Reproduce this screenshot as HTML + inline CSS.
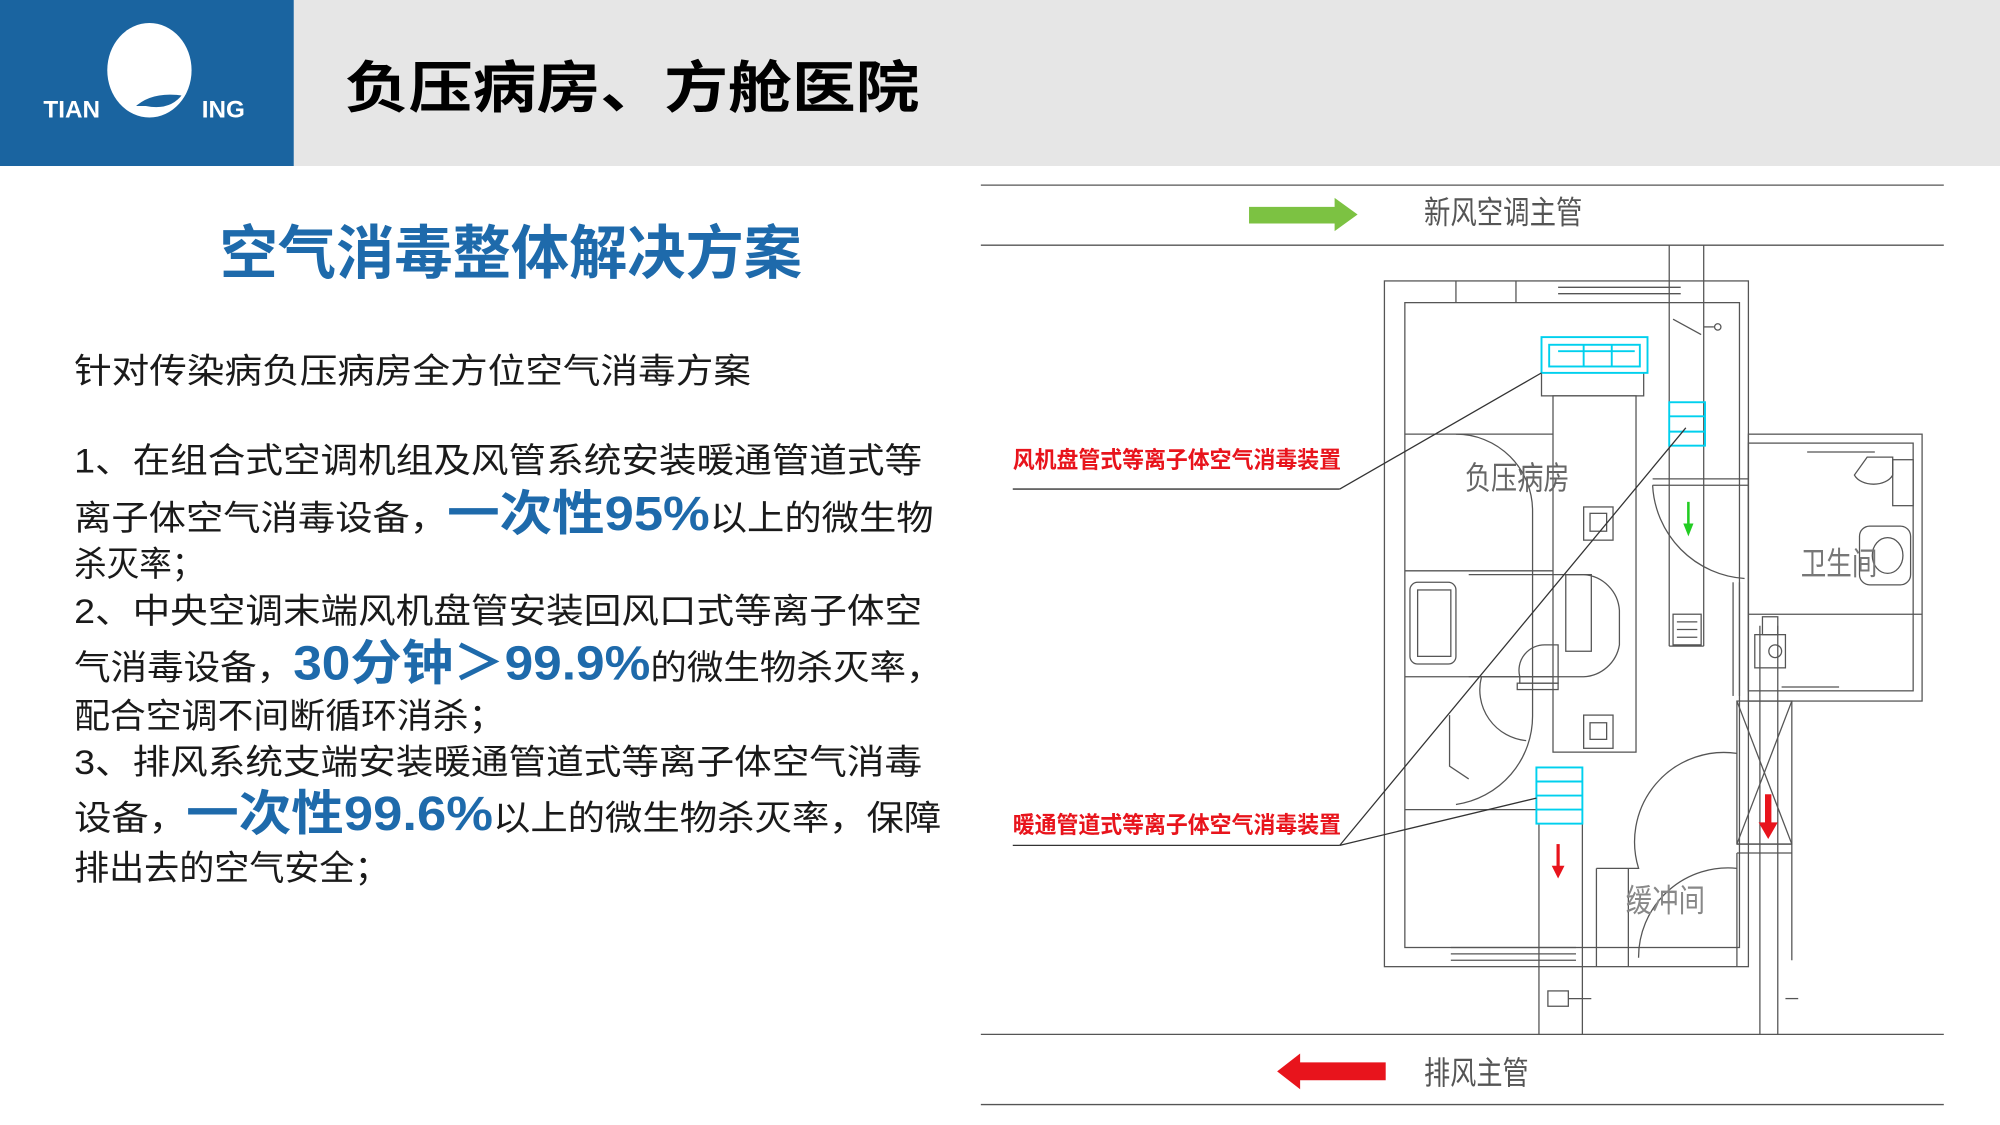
<!DOCTYPE html>
<html><head><meta charset="utf-8"><style>html,body{margin:0;padding:0;background:#fff}svg{display:block}</style></head>
<body>
<svg width="2000" height="1125" viewBox="0 0 1566 881" preserveAspectRatio="none" xmlns="http://www.w3.org/2000/svg" font-family="'Liberation Sans','Noto Sans CJK SC',sans-serif">
<rect x="0" y="0" width="1566" height="881" fill="#fff"/>
<rect x="230" y="0" width="1336" height="130" fill="#e6e6e6"/>
<rect x="0" y="0" width="230" height="130" fill="#1a64a0"/>
<ellipse cx="117" cy="55" rx="33" ry="37" fill="#fff"/>
<path d="M104 84 q14 -14 40 -10 q-10 14 -30 10 z" fill="#1a64a0" stroke="#fff" stroke-width="2"/>
<text x="34" y="92" fill="#fff" font-size="19" font-weight="bold">TIAN</text>
<text x="158" y="92" fill="#fff" font-size="19" font-weight="bold">ING</text>
<text x="270" y="84" font-size="44" font-weight="bold" fill="#000" textLength="450" lengthAdjust="spacingAndGlyphs">负压病房、方舱医院</text>
<text x="172" y="214" font-size="46" font-weight="bold" fill="#1e6aab" textLength="456" lengthAdjust="spacingAndGlyphs">空气消毒整体解决方案</text>
<g font-size="27" fill="#1a1a1a">
<text x="58" y="300" textLength="530" lengthAdjust="spacingAndGlyphs">针对传染病负压病房全方位空气消毒方案</text>
<text x="58" y="370" textLength="664" lengthAdjust="spacingAndGlyphs">1、在组合式空调机组及风管系统安装暖通管道式等</text>
<text x="58" y="415" textLength="673" lengthAdjust="spacingAndGlyphs">离子体空气消毒设备，<tspan font-size="38" font-weight="bold" fill="#1e6aab">一次性95%</tspan>以上的微生物</text>
<text x="58" y="451" textLength="102" lengthAdjust="spacingAndGlyphs">杀灭率；</text>
<text x="58" y="488" textLength="664" lengthAdjust="spacingAndGlyphs">2、中央空调末端风机盘管安装回风口式等离子体空</text>
<text x="58" y="532" textLength="680" lengthAdjust="spacingAndGlyphs">气消毒设备，<tspan font-size="38" font-weight="bold" fill="#1e6aab">30分钟＞99.9%</tspan>的微生物杀灭率，</text>
<text x="58" y="570" textLength="337" lengthAdjust="spacingAndGlyphs">配合空调不间断循环消杀；</text>
<text x="58" y="606" textLength="664" lengthAdjust="spacingAndGlyphs">3、排风系统支端安装暖通管道式等离子体空气消毒</text>
<text x="58" y="650" textLength="679" lengthAdjust="spacingAndGlyphs">设备，<tspan font-size="38" font-weight="bold" fill="#1e6aab">一次性99.6%</tspan>以上的微生物杀灭率，保障</text>
<text x="58" y="689" textLength="247" lengthAdjust="spacingAndGlyphs">排出去的空气安全；</text>
</g>
<!-- diagram -->
<g stroke="#555" stroke-width="1" fill="none">
<line x1="768" y1="145" x2="1522" y2="145"/><line x1="768" y1="192" x2="1522" y2="192"/>
<line x1="768" y1="810" x2="1522" y2="810"/><line x1="768" y1="865" x2="1522" y2="865"/>
<rect x="1084" y="220" width="285" height="537"/>
<rect x="1100" y="237" width="262" height="505"/>
<line x1="1140" y1="220" x2="1140" y2="237"/><line x1="1187" y1="220" x2="1187" y2="237"/>
<line x1="1220" y1="225" x2="1316" y2="225"/><line x1="1220" y1="230" x2="1316" y2="230"/>
<line x1="1136" y1="742" x2="1234" y2="742"/><line x1="1136" y1="747" x2="1234" y2="747"/><line x1="1136" y1="752" x2="1234" y2="752"/>
<rect x="1369" y="340" width="136" height="209"/>
<rect x="1369" y="347" width="129" height="194"/>
<line x1="1369" y1="481" x2="1505" y2="481"/>
<line x1="1307" y1="192" x2="1307" y2="506"/><line x1="1334" y1="192" x2="1334" y2="506"/>
<line x1="1307" y1="506" x2="1334" y2="506"/>
<rect x="1310" y="481" width="22" height="24"/>
<line x1="1313" y1="487" x2="1329" y2="487"/><line x1="1313" y1="493" x2="1329" y2="493"/><line x1="1313" y1="499" x2="1329" y2="499"/>
<line x1="1310" y1="250" x2="1332" y2="262"/><line x1="1334" y1="256" x2="1342" y2="256"/><circle cx="1345" cy="256" r="2.5"/>
<line x1="1294" y1="375" x2="1369" y2="375"/><line x1="1294" y1="380" x2="1369" y2="380"/>
<path d="M1294 380 A77 77 0 0 0 1366 453"/>
<rect x="1207" y="292" width="80" height="18"/>
<rect x="1216" y="310" width="65" height="279"/>
<line x1="1100" y1="340" x2="1216" y2="340"/>
<line x1="1100" y1="447" x2="1216" y2="447"/><line x1="1100" y1="530" x2="1216" y2="530"/><line x1="1100" y1="634" x2="1216" y2="634"/>
<path d="M1140 340 A60 60 0 0 1 1200 400 L1200 560 A70 70 0 0 1 1140 630"/>
<rect x="1104" y="456" width="36" height="64" rx="6"/>
<rect x="1110" y="462" width="26" height="52"/>
<path d="M1150 450 L1240 450 A30 30 0 0 1 1268 478 L1268 505 A30 30 0 0 1 1240 530 L1150 530"/>
<rect x="1226" y="450" width="20" height="60"/>
<path d="M1190 530 A20 20 0 0 1 1210 505 L1220 505 L1220 535 L1190 535 z"/>
<rect x="1188" y="535" width="32" height="5"/>
<path d="M1135 560 L1135 600 L1150 610 M1160 530 A40 40 0 0 0 1195 580"/>
<rect x="1240" y="397" width="23" height="26"/><rect x="1245" y="402" width="13" height="14"/>
<rect x="1240" y="560" width="23" height="26"/><rect x="1245" y="566" width="13" height="13"/>
<line x1="1357" y1="456" x2="1357" y2="545"/><line x1="1362" y1="456" x2="1362" y2="545"/>
<rect x="1360" y="549" width="43" height="112"/><line x1="1360" y1="549" x2="1403" y2="661"/><line x1="1403" y1="549" x2="1360" y2="661"/>
<line x1="1378" y1="490" x2="1378" y2="810"/><line x1="1392" y1="490" x2="1392" y2="810"/>
<line x1="1360" y1="661" x2="1403" y2="661"/><line x1="1360" y1="668" x2="1403" y2="668"/>
<line x1="1403" y1="661" x2="1403" y2="752"/>
<line x1="1360" y1="668" x2="1360" y2="757"/>
<line x1="1398" y1="782" x2="1408" y2="782"/>
<path d="M1360 590 A70 70 0 0 0 1283 680 L1275 680 L1275 757 M1250 680 L1275 680 M1250 680 L1250 757"/>
<path d="M1360 680 A70 70 0 0 0 1283 750"/>
<line x1="1239" y1="645" x2="1239" y2="810"/><line x1="1205" y1="645" x2="1205" y2="810"/>
<rect x="1212" y="776" width="16" height="12"/><line x1="1228" y1="782" x2="1246" y2="782"/>
<path d="M1452 372 a16 11 0 0 0 30 0 l0 -14 l-20 0 z"/><rect x="1482" y="360" width="16" height="36"/>
<line x1="1415" y1="354" x2="1468" y2="354"/>
<rect x="1456" y="412" width="40" height="46" rx="8"/><ellipse cx="1478" cy="435" rx="12" ry="14"/>
<rect x="1380" y="483" width="12" height="14"/><rect x="1374" y="497" width="24" height="26"/><circle cx="1390" cy="510" r="5"/>
<line x1="1395" y1="538" x2="1440" y2="538"/>
</g>
<!-- cyan devices -->
<g stroke="#00d0ee" stroke-width="1.5" fill="none">
<rect x="1207" y="264" width="83" height="28"/><rect x="1213" y="270" width="71" height="17"/>
<line x1="1220" y1="275" x2="1280" y2="275"/><line x1="1240" y1="270" x2="1240" y2="287"/><line x1="1262" y1="270" x2="1262" y2="287"/>
<rect x="1307" y="315" width="28" height="34"/><line x1="1307" y1="326" x2="1335" y2="326"/><line x1="1307" y1="338" x2="1335" y2="338"/>
<rect x="1203" y="601" width="36" height="44"/><line x1="1203" y1="612" x2="1239" y2="612"/><line x1="1203" y1="623" x2="1239" y2="623"/><line x1="1203" y1="634" x2="1239" y2="634"/>
</g>
<!-- leaders -->
<g stroke="#333" stroke-width="1" fill="none">
<line x1="793" y1="383" x2="1049" y2="383"/><line x1="1049" y1="383" x2="1207" y2="292"/>
<line x1="793" y1="662" x2="1049" y2="662"/><line x1="1049" y1="662" x2="1203" y2="625"/><line x1="1049" y1="662" x2="1320" y2="335"/>
</g>
<text x="793" y="366" font-size="18" font-weight="bold" fill="#e8141c" textLength="257" lengthAdjust="spacingAndGlyphs">风机盘管式等离子体空气消毒装置</text>
<text x="793" y="652" font-size="18" font-weight="bold" fill="#e8141c" textLength="257" lengthAdjust="spacingAndGlyphs">暖通管道式等离子体空气消毒装置</text>
<g fill="#555" font-size="25">
<text x="1115" y="175" textLength="124" lengthAdjust="spacingAndGlyphs">新风空调主管</text>
<text x="1115" y="849" textLength="82" lengthAdjust="spacingAndGlyphs">排风主管</text>
<text x="1147" y="383" textLength="82" lengthAdjust="spacingAndGlyphs" fill="#666">负压病房</text>
<text x="1410" y="450" textLength="60" lengthAdjust="spacingAndGlyphs" fill="#777">卫生间</text>
<text x="1273" y="714" textLength="62" lengthAdjust="spacingAndGlyphs" fill="#888">缓冲间</text>
</g>
<!-- arrows -->
<polygon points="978,162 1045,162 1045,155 1063,168 1045,181 1045,175 978,175" fill="#7cc242"/>
<polygon points="1085,832 1018,832 1018,825 1000,839 1018,853 1018,846 1085,846" fill="#e8141c"/>
<line x1="1322" y1="393" x2="1322" y2="412" stroke="#22cc22" stroke-width="2"/><polygon points="1318,410 1326,410 1322,420" fill="#22cc22"/>
<line x1="1220" y1="661" x2="1220" y2="680" stroke="#e8141c" stroke-width="2.5"/><polygon points="1215,678 1225,678 1220,688" fill="#e8141c"/>
<rect x="1382" y="622" width="5" height="24" fill="#e8141c"/><polygon points="1377,644 1392,644 1384.5,657" fill="#e8141c"/>
</svg>
</body></html>
